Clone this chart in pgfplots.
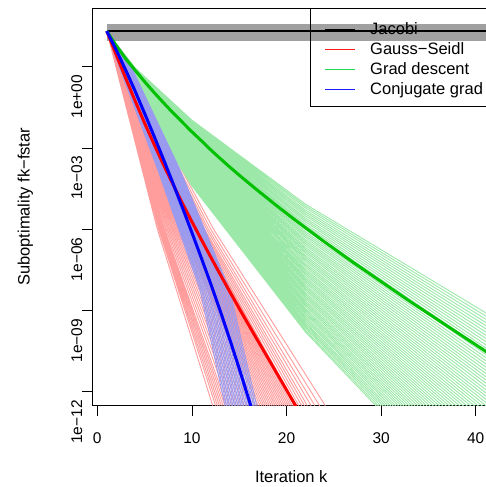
\documentclass[border=0pt]{standalone}
\usepackage{fontspec}
\setmainfont{Liberation Sans}
\usepackage{pgfplots}
\pgfplotsset{compat=1.18}
\definecolor{gsthin}{HTML}{FF9C9C}
\definecolor{gdthin}{HTML}{9CE8A8}
\definecolor{cgthin}{HTML}{9A9AEE}
\definecolor{jacthin}{HTML}{A0A0A0}
\definecolor{gdthick}{HTML}{00C000}
\definecolor{legred}{HTML}{FF1A1A}
\definecolor{leggreen}{HTML}{22D84A}
\definecolor{legblue}{HTML}{1A1AFF}
\newcommand\tickfont{\fontsize{15.5}{18}\selectfont}
\newcommand\labfont{\fontsize{16.5}{19}\selectfont}
% legend sample: a coloured rule, then the label
\newcommand\legline[2]{\textcolor{#1}{\rule[4pt]{30pt}{1.1pt}}\hspace{15pt}#2}
\begin{document}
\begin{tikzpicture}[x=1pt,y=1pt]
\path[use as bounding box] (0,0) rectangle (485,487);
\begin{axis}[
  at={(92pt,81.3pt)}, anchor=south west,
  scale only axis, width=398.5pt, height=397.7pt,
  xmin=-0.56, xmax=41.56, ymin=-12.51, ymax=2.17,
  unbounded coords=jump,
  axis line style={line width=0.8pt},
  every tick/.style={black, line width=0.8pt},
  major tick length=10pt, tick align=outside,
  xtick pos=left, ytick pos=left,
  xtick={0,10,20,30,40}, xticklabels={0,10,20,30,40},
  ytick={-12,-9,-6,-3,0},
  yticklabels={1e−12,1e−09,1e−06,1e−03,1e+00},
  xticklabel style={font=\tickfont, anchor=base, inner sep=0pt, yshift=-27.8pt},
  yticklabel style={font=\tickfont, rotate=90, anchor=base, inner sep=0pt, xshift=-30pt},
  xlabel={Iteration k}, ylabel={Suboptimality fk−fstar},
  xlabel style={font=\labfont, at={(axis description cs:0.5,0)}, anchor=base, inner sep=0pt, yshift=-77.3pt},
  ylabel style={font=\labfont, at={(axis description cs:0,0.5)}, anchor=base, inner sep=0pt, yshift=62.5pt},
  legend style={at={(0.547,1)}, anchor=north west, draw, fill=none, font=\labfont,
    inner xsep=15pt, inner ysep=9pt, row sep=0pt, column sep=0pt,
    nodes={inner sep=0pt, text height=17pt, text depth=3pt},
    cells={anchor=base west}},
  legend image code/.code={},
]
% Jacobi runs (flat band)
\addplot[jacthin, line width=2pt, forget plot] table[row sep=\\] {x y\\
1 1.00\\ 42 1.00\\ nan nan\\ 1 1.04\\ 42 1.04\\ nan nan\\ 1 1.08\\ 42 1.08\\ nan nan\\
1 1.12\\ 42 1.12\\ nan nan\\ 1 1.16\\ 42 1.16\\ nan nan\\ 1 1.20\\ 42 1.20\\ nan nan\\
1 1.24\\ 42 1.24\\ nan nan\\ 1 1.28\\ 42 1.28\\ nan nan\\ 1 1.32\\ 42 1.32\\ nan nan\\
1 1.36\\ 42 1.36\\ nan nan\\ 1 1.40\\ 42 1.40\\ nan nan\\ 1 1.44\\ 42 1.44\\ nan nan\\
1 1.48\\ 42 1.48\\ nan nan\\ 1 1.52\\ 42 1.52\\ nan nan\\ 1 1.56\\ 42 1.56\\
};
% Gauss-Seidel runs
\addplot[gsthin, line width=0.9pt, forget plot] table[row sep=\\] {x y\\
1 1.32\\ 6.35 -6\\ 12.2 -12.51\\ nan nan\\
1 1.32\\ 6.50 -6\\ 12.5 -12.51\\ nan nan\\
1 1.32\\ 6.60 -6\\ 12.7 -12.51\\ nan nan\\
1 1.32\\ 6.70 -6\\ 12.9 -12.51\\ nan nan\\
1 1.32\\ 6.80 -6\\ 13.1 -12.51\\ nan nan\\
1 1.32\\ 6.90 -6\\ 13.3 -12.51\\ nan nan\\
1 1.32\\ 7.00 -6\\ 13.5 -12.51\\ nan nan\\
1 1.32\\ 7.10 -6\\ 13.7 -12.51\\ nan nan\\
1 1.32\\ 7.25 -6\\ 14.0 -12.51\\ nan nan\\
1 1.32\\ 7.40 -6\\ 14.3 -12.51\\ nan nan\\
1 1.32\\ 7.55 -6\\ 14.6 -12.51\\ nan nan\\
1 1.32\\ 7.70 -6\\ 14.9 -12.51\\ nan nan\\
1 1.32\\ 7.85 -6\\ 15.2 -12.51\\ nan nan\\
1 1.32\\ 8.00 -6\\ 15.5 -12.51\\ nan nan\\
1 1.32\\ 8.15 -6\\ 15.8 -12.51\\ nan nan\\
1 1.32\\ 8.30 -6\\ 16.1 -12.51\\ nan nan\\
1 1.32\\ 8.45 -6\\ 16.4 -12.51\\ nan nan\\
1 1.32\\ 8.60 -6\\ 16.7 -12.51\\ nan nan\\
1 1.32\\ 8.75 -6\\ 17.0 -12.51\\ nan nan\\
1 1.32\\ 8.85 -6\\ 17.2 -12.51\\ nan nan\\
1 1.32\\ 8.95 -6\\ 17.4 -12.51\\ nan nan\\
1 1.32\\ 9.05 -6\\ 17.6 -12.51\\ nan nan\\
1 1.32\\ 9.15 -6\\ 17.8 -12.51\\ nan nan\\
1 1.32\\ 9.25 -6\\ 18.0 -12.51\\ nan nan\\
1 1.32\\ 9.35 -6\\ 18.2 -12.51\\ nan nan\\
1 1.32\\ 9.45 -6\\ 18.4 -12.51\\ nan nan\\
1 1.32\\ 9.55 -6\\ 18.6 -12.51\\ nan nan\\
1 1.32\\ 9.65 -6\\ 18.8 -12.51\\ nan nan\\
1 1.32\\ 9.75 -6\\ 19.0 -12.51\\ nan nan\\
1 1.32\\ 9.85 -6\\ 19.2 -12.51\\ nan nan\\
1 1.32\\ 9.95 -6\\ 19.4 -12.51\\ nan nan\\
1 1.32\\ 10.05 -6\\ 19.6 -12.51\\ nan nan\\
1 1.32\\ 10.15 -6\\ 19.8 -12.51\\ nan nan\\
1 1.32\\ 10.25 -6\\ 20.0 -12.51\\ nan nan\\
1 1.32\\ 10.35 -6\\ 20.2 -12.51\\ nan nan\\
1 1.32\\ 10.45 -6\\ 20.4 -12.51\\ nan nan\\
1 1.32\\ 10.55 -6\\ 20.6 -12.51\\ nan nan\\
1 1.32\\ 10.65 -6\\ 20.8 -12.51\\ nan nan\\
1 1.32\\ 10.75 -6\\ 21.0 -12.51\\ nan nan\\
1 1.32\\ 10.90 -6\\ 21.3 -12.51\\ nan nan\\
1 1.32\\ 11.05 -6\\ 21.6 -12.51\\ nan nan\\
1 1.32\\ 11.20 -6\\ 21.9 -12.51\\ nan nan\\
1 1.32\\ 11.35 -6\\ 22.2 -12.51\\ nan nan\\
1 1.32\\ 11.55 -6\\ 22.6 -12.51\\ nan nan\\
1 1.32\\ 11.75 -6\\ 23.0 -12.51\\ nan nan\\
1 1.32\\ 12.00 -6\\ 23.5 -12.51\\ nan nan\\
1 1.32\\ 12.30 -6\\ 24.1 -12.51\\
};
% gradient descent runs
\addplot[gdthin, line width=0.9pt, forget plot] table[row sep=\\] {x y\\
1 1.32\\ 4 -0.04\\ 10 -1.97\\ 22 -5.07\\ 42 -9.28\\ nan nan\\
1 1.32\\ 4 -0.05\\ 10 -2.01\\ 22 -5.14\\ 42 -9.40\\ nan nan\\
1 1.32\\ 4 -0.07\\ 10 -2.05\\ 22 -5.21\\ 42 -9.52\\ nan nan\\
1 1.32\\ 4 -0.08\\ 10 -2.08\\ 22 -5.29\\ 42 -9.64\\ nan nan\\
1 1.32\\ 4 -0.10\\ 10 -2.12\\ 22 -5.36\\ 42 -9.76\\ nan nan\\
1 1.32\\ 4 -0.11\\ 10 -2.16\\ 22 -5.43\\ 42 -9.88\\ nan nan\\
1 1.32\\ 4 -0.13\\ 10 -2.20\\ 22 -5.50\\ 42 -10.00\\ nan nan\\
1 1.32\\ 4 -0.14\\ 10 -2.23\\ 22 -5.58\\ 42 -10.12\\ nan nan\\
1 1.32\\ 4 -0.16\\ 10 -2.27\\ 22 -5.65\\ 42 -10.24\\ nan nan\\
1 1.32\\ 4 -0.17\\ 10 -2.31\\ 22 -5.72\\ 42 -10.36\\ nan nan\\
1 1.32\\ 4 -0.19\\ 10 -2.35\\ 22 -5.80\\ 42 -10.48\\ nan nan\\
1 1.32\\ 4 -0.20\\ 10 -2.38\\ 22 -5.87\\ 42 -10.60\\ nan nan\\
1 1.32\\ 4 -0.22\\ 10 -2.42\\ 22 -5.94\\ 42 -10.72\\ nan nan\\
1 1.32\\ 4 -0.24\\ 10 -2.46\\ 22 -6.01\\ 42 -10.84\\ nan nan\\
1 1.32\\ 4 -0.25\\ 10 -2.49\\ 22 -6.09\\ 42 -10.96\\ nan nan\\
1 1.32\\ 4 -0.27\\ 10 -2.53\\ 22 -6.16\\ 42 -11.08\\ nan nan\\
1 1.32\\ 4 -0.28\\ 10 -2.57\\ 22 -6.23\\ 42 -11.20\\ nan nan\\
1 1.32\\ 4 -0.30\\ 10 -2.61\\ 22 -6.30\\ 42 -11.32\\ nan nan\\
1 1.32\\ 4 -0.31\\ 10 -2.64\\ 22 -6.38\\ 42 -11.44\\ nan nan\\
1 1.32\\ 4 -0.33\\ 10 -2.68\\ 22 -6.45\\ 42 -11.56\\ nan nan\\
1 1.32\\ 4 -0.34\\ 10 -2.72\\ 22 -6.52\\ 42 -11.68\\ nan nan\\
1 1.32\\ 4 -0.36\\ 10 -2.76\\ 22 -6.59\\ 42 -11.80\\ nan nan\\
1 1.32\\ 4 -0.37\\ 10 -2.79\\ 22 -6.67\\ 42 -11.92\\ nan nan\\
1 1.32\\ 4 -0.39\\ 10 -2.83\\ 22 -6.74\\ 42 -12.04\\ nan nan\\
1 1.32\\ 4 -0.40\\ 10 -2.87\\ 22 -6.81\\ 42 -12.17\\ nan nan\\
1 1.32\\ 4 -0.42\\ 10 -2.91\\ 22 -6.88\\ 42 -12.29\\ nan nan\\
1 1.32\\ 4 -0.44\\ 10 -2.94\\ 22 -6.96\\ 42 -12.41\\ nan nan\\
1 1.32\\ 4 -0.45\\ 10 -2.98\\ 22 -7.03\\ 42 -12.53\\ nan nan\\
1 1.32\\ 4 -0.47\\ 10 -3.02\\ 22 -7.10\\ 42 -12.65\\ nan nan\\
1 1.32\\ 4 -0.48\\ 10 -3.06\\ 22 -7.17\\ 42 -12.77\\ nan nan\\
1 1.32\\ 4 -0.50\\ 10 -3.09\\ 22 -7.25\\ 42 -12.89\\ nan nan\\
1 1.32\\ 4 -0.51\\ 10 -3.13\\ 22 -7.32\\ 42 -13.01\\ nan nan\\
1 1.32\\ 4 -0.53\\ 10 -3.17\\ 22 -7.39\\ 42 -13.13\\ nan nan\\
1 1.32\\ 4 -0.54\\ 10 -3.21\\ 22 -7.47\\ 42 -13.25\\ nan nan\\
1 1.32\\ 4 -0.56\\ 10 -3.24\\ 22 -7.54\\ 42 -13.37\\ nan nan\\
1 1.32\\ 4 -0.57\\ 10 -3.28\\ 22 -7.61\\ 42 -13.49\\ nan nan\\
1 1.32\\ 4 -0.59\\ 10 -3.32\\ 22 -7.68\\ 42 -13.61\\ nan nan\\
1 1.32\\ 4 -0.60\\ 10 -3.35\\ 22 -7.76\\ 42 -13.73\\ nan nan\\
1 1.32\\ 4 -0.62\\ 10 -3.39\\ 22 -7.83\\ 42 -13.85\\ nan nan\\
1 1.32\\ 4 -0.64\\ 10 -3.43\\ 22 -7.90\\ 42 -13.97\\ nan nan\\
1 1.32\\ 4 -0.65\\ 10 -3.47\\ 22 -7.97\\ 42 -14.09\\ nan nan\\
1 1.32\\ 4 -0.67\\ 10 -3.50\\ 22 -8.05\\ 42 -14.21\\ nan nan\\
1 1.32\\ 4 -0.68\\ 10 -3.54\\ 22 -8.12\\ 42 -14.33\\ nan nan\\
1 1.32\\ 4 -0.70\\ 10 -3.58\\ 22 -8.19\\ 42 -14.45\\ nan nan\\
1 1.32\\ 4 -0.71\\ 10 -3.62\\ 22 -8.26\\ 42 -14.57\\ nan nan\\
1 1.32\\ 4 -0.73\\ 10 -3.65\\ 22 -8.34\\ 42 -14.69\\ nan nan\\
1 1.32\\ 4 -0.74\\ 10 -3.69\\ 22 -8.41\\ 42 -14.81\\ nan nan\\
1 1.32\\ 4 -0.76\\ 10 -3.73\\ 22 -8.48\\ 42 -14.93\\ nan nan\\
1 1.32\\ 4 -0.77\\ 10 -3.77\\ 22 -8.55\\ 42 -15.05\\ nan nan\\
1 1.32\\ 4 -0.79\\ 10 -3.80\\ 22 -8.63\\ 42 -15.17\\ nan nan\\
1 1.32\\ 4 -0.81\\ 10 -3.84\\ 22 -8.70\\ 42 -15.30\\ nan nan\\
1 1.32\\ 4 -0.82\\ 10 -3.88\\ 22 -8.77\\ 42 -15.42\\ nan nan\\
1 1.32\\ 4 -0.84\\ 10 -3.92\\ 22 -8.84\\ 42 -15.54\\ nan nan\\
1 1.32\\ 4 -0.85\\ 10 -3.95\\ 22 -8.92\\ 42 -15.66\\ nan nan\\
1 1.32\\ 4 -0.87\\ 10 -3.99\\ 22 -8.99\\ 42 -15.78\\ nan nan\\
1 1.32\\ 4 -0.88\\ 10 -4.03\\ 22 -9.06\\ 42 -15.90\\ nan nan\\
1 1.32\\ 4 -0.90\\ 10 -4.07\\ 22 -9.13\\ 42 -16.02\\ nan nan\\
1 1.32\\ 4 -0.91\\ 10 -4.10\\ 22 -9.21\\ 42 -16.14\\ nan nan\\
1 1.32\\ 4 -0.93\\ 10 -4.14\\ 22 -9.28\\ 42 -16.26\\ nan nan\\
1 1.32\\ 4 -0.94\\ 10 -4.18\\ 22 -9.35\\ 42 -16.38\\ nan nan\\
1 1.32\\ 4 -0.96\\ 10 -4.21\\ 22 -9.43\\ 42 -16.50\\ nan nan\\
1 1.32\\ 4 -0.97\\ 10 -4.25\\ 22 -9.50\\ 42 -16.62\\ nan nan\\
1 1.32\\ 4 -0.99\\ 10 -4.29\\ 22 -9.57\\ 42 -16.74\\ nan nan\\
1 1.32\\ 4 -1.01\\ 10 -4.33\\ 22 -9.64\\ 42 -16.86\\ nan nan\\
1 1.32\\ 4 -1.02\\ 10 -4.36\\ 22 -9.72\\ 42 -16.98\\ nan nan\\
1 1.32\\ 4 -1.04\\ 10 -4.40\\ 22 -9.79\\ 42 -17.10\\
};
% conjugate gradient runs
\addplot[cgthin, line width=0.9pt, forget plot] table[row sep=\\] {x y\\
1 1.32\\ 2.05 0.25\\ 6.40 -3.81\\ 10.86 -8.24\\ 13.50 -12.51\\ nan nan\\
1 1.32\\ 2.11 0.25\\ 6.52 -3.81\\ 11.02 -8.24\\ 13.67 -12.51\\ nan nan\\
1 1.32\\ 2.17 0.25\\ 6.64 -3.81\\ 11.17 -8.24\\ 13.84 -12.51\\ nan nan\\
1 1.32\\ 2.23 0.25\\ 6.75 -3.81\\ 11.33 -8.24\\ 14.00 -12.51\\ nan nan\\
1 1.32\\ 2.29 0.25\\ 6.87 -3.81\\ 11.49 -8.24\\ 14.17 -12.51\\ nan nan\\
1 1.32\\ 2.35 0.25\\ 6.99 -3.81\\ 11.65 -8.24\\ 14.34 -12.51\\ nan nan\\
1 1.32\\ 2.41 0.25\\ 7.11 -3.81\\ 11.80 -8.24\\ 14.51 -12.51\\ nan nan\\
1 1.32\\ 2.47 0.25\\ 7.22 -3.81\\ 11.96 -8.24\\ 14.67 -12.51\\ nan nan\\
1 1.32\\ 2.53 0.25\\ 7.34 -3.81\\ 12.12 -8.24\\ 14.84 -12.51\\ nan nan\\
1 1.32\\ 2.59 0.25\\ 7.46 -3.81\\ 12.27 -8.24\\ 15.01 -12.51\\ nan nan\\
1 1.32\\ 2.65 0.25\\ 7.58 -3.81\\ 12.43 -8.24\\ 15.18 -12.51\\ nan nan\\
1 1.32\\ 2.71 0.25\\ 7.69 -3.81\\ 12.59 -8.24\\ 15.34 -12.51\\ nan nan\\
1 1.32\\ 2.77 0.25\\ 7.81 -3.81\\ 12.74 -8.24\\ 15.51 -12.51\\ nan nan\\
1 1.32\\ 2.83 0.25\\ 7.93 -3.81\\ 12.90 -8.24\\ 15.68 -12.51\\ nan nan\\
1 1.32\\ 2.89 0.25\\ 8.05 -3.81\\ 13.06 -8.24\\ 15.85 -12.51\\ nan nan\\
1 1.32\\ 2.95 0.25\\ 8.16 -3.81\\ 13.22 -8.24\\ 16.01 -12.51\\ nan nan\\
1 1.32\\ 3.01 0.25\\ 8.28 -3.81\\ 13.37 -8.24\\ 16.18 -12.51\\ nan nan\\
1 1.32\\ 3.07 0.25\\ 8.40 -3.81\\ 13.53 -8.24\\ 16.35 -12.51\\ nan nan\\
1 1.32\\ 3.13 0.25\\ 8.52 -3.81\\ 13.69 -8.24\\ 16.52 -12.51\\ nan nan\\
1 1.32\\ 3.19 0.25\\ 8.63 -3.81\\ 13.84 -8.24\\ 16.68 -12.51\\ nan nan\\
1 1.32\\ 3.25 0.25\\ 8.75 -3.81\\ 14.00 -8.24\\ 16.85 -12.51\\
};
% averages (these carry the legend)
\addplot[black, line width=2.5pt] table[row sep=\\] {x y\\ 1 1.32\\ 42 1.32\\};
\addlegendentry{\legline{black}{Jacobi}}
\addplot[red, line width=3pt, line join=round] table[row sep=\\] {x y\\
1 1.32\\ 2 0.44\\ 3 -0.42\\ 4 -1.26\\ 5 -2.08\\ 6 -2.86\\ 7 -3.62\\ 8 -4.34\\
9 -5.04\\ 10 -5.72\\ 11 -6.38\\ 12 -7.03\\ 13 -7.67\\ 14 -8.30\\ 15 -8.92\\
16 -9.53\\ 17 -10.13\\ 18 -10.73\\ 19 -11.33\\ 20 -11.93\\ 21 -12.53\\
};
\addlegendentry{\legline{legred}{Gauss−Seidl}}
\addplot[gdthick, line width=3pt, line join=round] table[row sep=\\] {x y\\
1 1.32\\ 2 0.78\\ 3 0.30\\ 4 -0.13\\ 5 -0.55\\ 6 -0.95\\ 7 -1.33\\ 8 -1.70\\
9 -2.05\\ 10 -2.40\\ 11 -2.73\\ 12 -3.07\\ 13 -3.39\\ 14 -3.70\\ 15 -4.00\\
16 -4.29\\ 17 -4.58\\ 18 -4.86\\ 19 -5.14\\ 20 -5.41\\ 21 -5.68\\ 22 -5.94\\
23 -6.20\\ 24 -6.46\\ 25 -6.71\\ 26 -6.96\\ 27 -7.21\\ 28 -7.45\\ 29 -7.69\\
30 -7.93\\ 31 -8.17\\ 32 -8.41\\ 33 -8.65\\ 34 -8.88\\ 35 -9.11\\ 36 -9.34\\
37 -9.57\\ 38 -9.80\\ 39 -10.03\\ 40 -10.26\\ 41 -10.49\\ 42 -10.72\\
};
\addlegendentry{\legline{leggreen}{Grad descent}}
\addplot[blue, line width=3pt, line join=round] table[row sep=\\] {x y\\
1 1.32\\ 2 0.62\\ 3 -0.12\\ 4 -0.90\\ 5 -1.72\\ 6 -2.56\\ 7 -3.42\\ 8 -4.30\\
9 -5.20\\ 10 -6.12\\ 11 -7.06\\ 12 -8.02\\ 13 -9.02\\ 14 -10.06\\ 15 -11.14\\
16 -12.26\\ 17 -13.40\\
};
\addlegendentry{\legline{legblue}{Conjugate grad}}
\end{axis}
\end{tikzpicture}
\end{document}
